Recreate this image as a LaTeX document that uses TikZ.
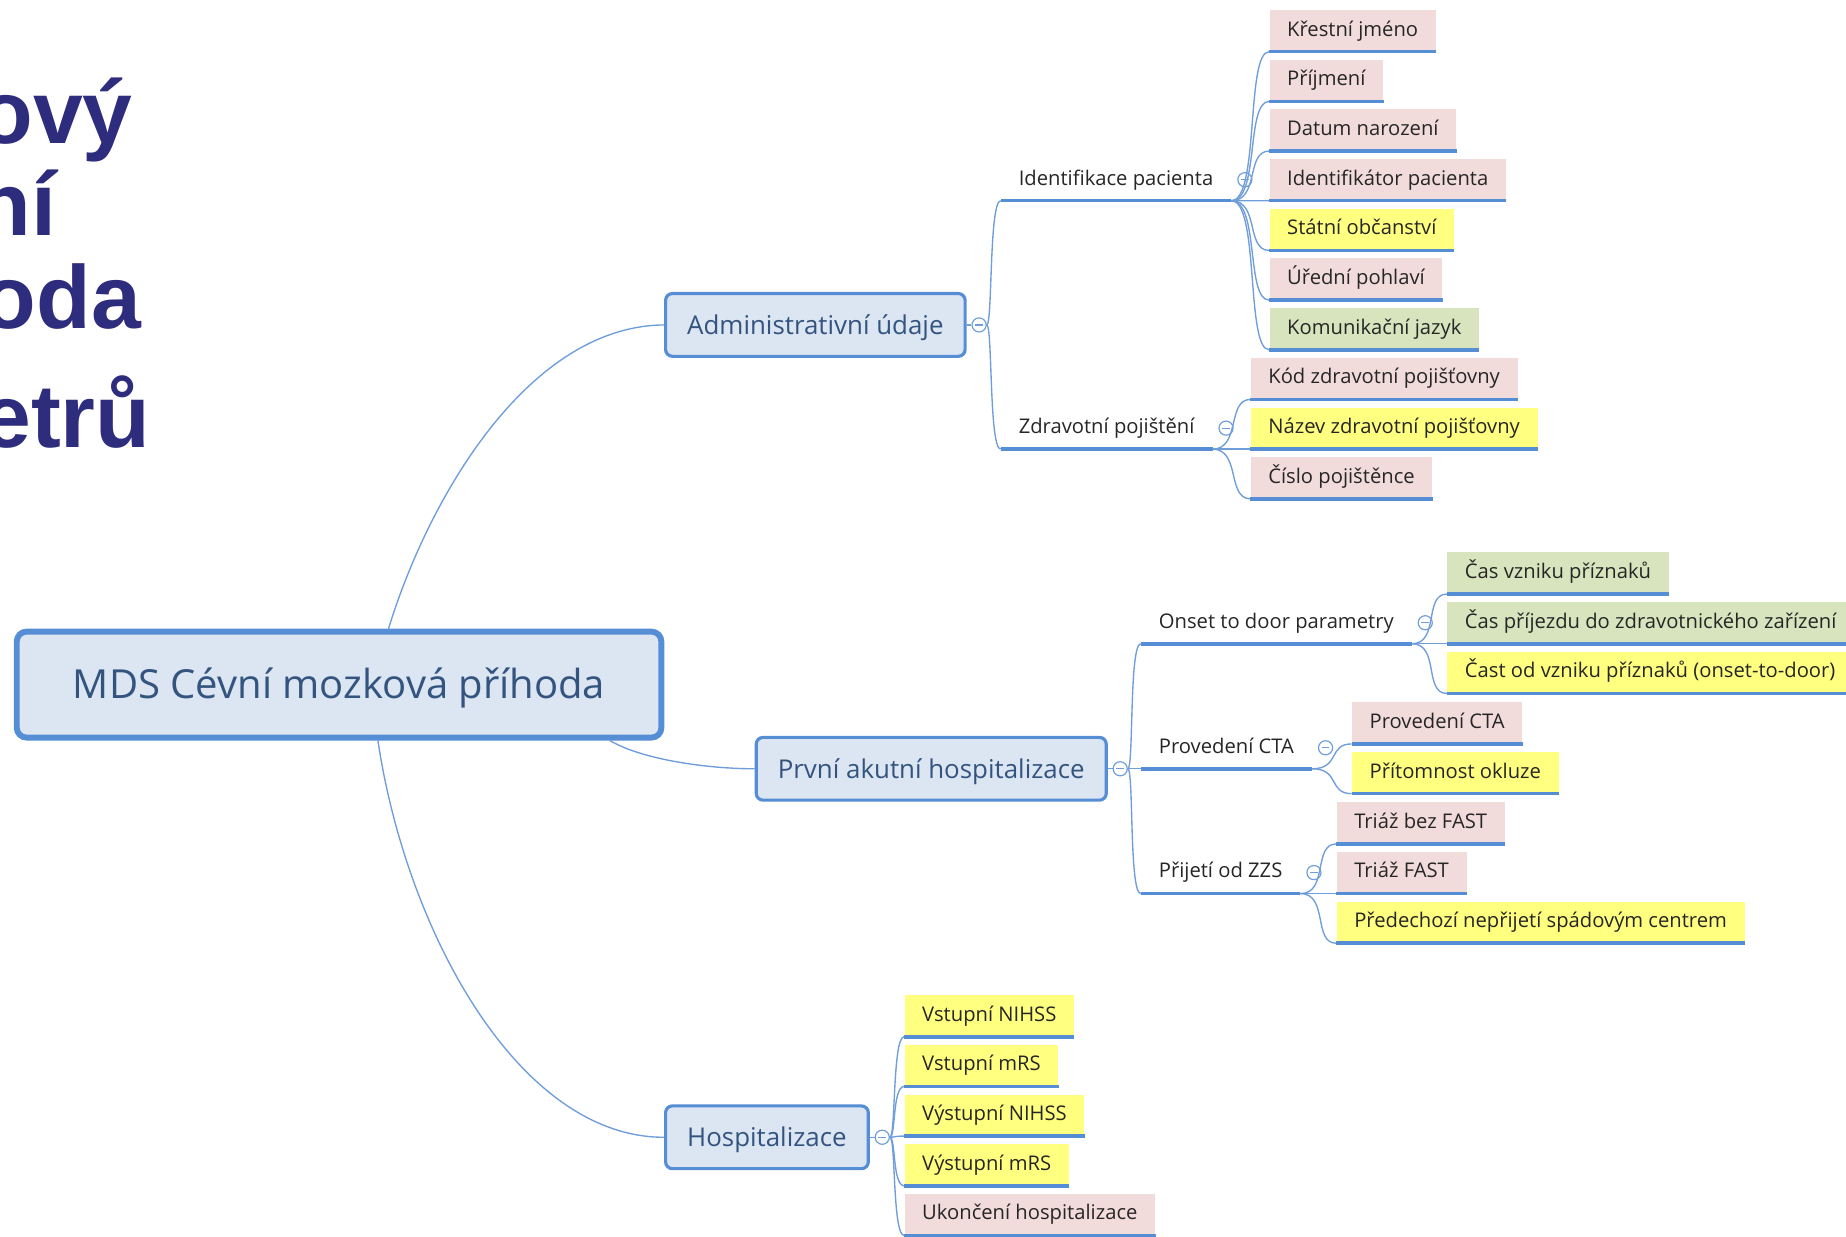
\documentclass[tikz,border=0pt]{standalone}
\usepackage{fontspec}
\setmainfont{Open Sans}
\newfontfamily\headfont{Liberation Sans}
\usetikzlibrary{positioning}

\definecolor{nodeblue}{RGB}{85,142,213}
\definecolor{boxfill}{RGB}{220,230,242}
\definecolor{linkblue}{RGB}{112,158,218}
\definecolor{topicblue}{RGB}{52,84,128}
\definecolor{inkgray}{RGB}{38,38,38}
\definecolor{titlenavy}{RGB}{46,45,125}
\definecolor{leafpink}{RGB}{242,220,219}
\definecolor{leafyellow}{RGB}{255,255,128}
\definecolor{leafgreen}{RGB}{215,228,189}

\begin{document}
\begin{tikzpicture}[x=0.6pt, y=-0.6pt,
    every node/.style={font=\fontsize{10.3}{12}\selectfont, text=inkgray},
    central/.style={draw=nodeblue, line width=3pt, fill=boxfill, rounded corners=5pt,
        minimum width=328.5pt, minimum height=54pt, text=topicblue, font=\fontsize{20.4}{24}\selectfont,
        text height=14.6pt, text depth=0pt},
    mainbranch/.style={draw=nodeblue, line width=1.6pt, fill=boxfill, rounded corners=3.5pt, anchor=west,
        inner xsep=11pt, minimum height=32pt, text=topicblue, font=\fontsize{13.2}{16}\selectfont,
        text height=9.4pt, text depth=0pt},
    topic/.style={anchor=south west, inner xsep=9pt, inner ysep=0pt, minimum height=21pt,
        text height=8pt, text depth=2.5pt},
    leaf/.style={topic, fill=#1},
    toggle/.style={circle, draw=linkblue, fill=white, line width=.6pt, minimum size=7.2pt, inner sep=0pt,
        path picture={\draw[linkblue, line width=.6pt] ([xshift=-2pt]path picture bounding box.center)
            -- ([xshift=2pt]path picture bounding box.center);}},
    link/.style={draw=linkblue, line width=.7pt},
    uline/.style={draw=nodeblue, line width=1.8pt},
    branch/.style={to path={.. controls +(5,0) and +(-10,0) .. (\tikztotarget)}},
    twig/.style={to path={.. controls +(24,0) and +(-20,0) .. (\tikztotarget)}},
    heading/.style={font=\headfont\bfseries\fontsize{45.6}{50}\selectfont, text=titlenavy,
        anchor=base east, inner sep=0pt}]
    \useasboundingbox (0,0) rectangle (1568,1050);

    % slide title, cut by the left edge
    \node[heading] (hd1) at (113,122) {ový};
    \node[heading] (hd2) at (48,200) {ní};
    \node[heading] (hd3) at (120,279) {oda};
    \node[heading] (hd4) at (128,380) {etrů};

    \node[central] (mds) at (288,581.5) {MDS Cévní mozková příhoda};

    \node[mainbranch] (adm) at (564,276) {Administrativní údaje};
    \node[mainbranch] (pah) at (641,653) {První akutní hospitalizace};
    \node[mainbranch] (hos) at (564,966) {Hospitalizace};
    \node[toggle, right=2.4pt of adm] (admc) {};
    \node[toggle, right=2.4pt of pah] (pahc) {};
    \node[toggle, right=2.4pt of hos] (hosc) {};

    \draw[link] ([xshift=25.2pt]mds.north) .. controls (365,420) and (450,277) .. (adm.west);
    \draw[link] ([xshift=138pt]mds.south) .. controls (545,645) and (600,653) .. (pah.west);
    \draw[link] ([xshift=19.8pt]mds.south) .. controls (345,790) and (440,966) .. (hos.west);
    \foreach \a in {adm,pah,hos}
        \draw[link] (\a.east) -- (\a c.west);

    \node[topic] (idp) at (850,170.5) {Identifikace pacienta};
    \node[topic] (zdp) at (850,381.5) {Zdravotní pojištění};
    \node[topic] (otd) at (969,546.8) {Onset to door parametry};
    \node[topic] (cta) at (969,653) {Provedení CTA};
    \node[topic] (zzs) at (969,759) {Přijetí od ZZS};
    \foreach \p/\q in {admc/idp, admc/zdp, pahc/otd, pahc/cta, pahc/zzs} {
        \draw[link] (\p.east) to[branch] (\q.south west);
        \draw[uline] (\q.south west) -- (\q.south east);
        \node[toggle, right=3pt of \q] (\q c) {};
    }

    % leaves
    \foreach \n/\t/\c [count=\i from 0] in {kj/Křestní jméno/leafpink, pj/Příjmení/leafpink,
            dn/Datum narození/leafpink, ip/Identifikátor pacienta/leafpink,
            so/Státní občanství/leafyellow, up/Úřední pohlaví/leafpink, kl/Komunikační jazyk/leafgreen} {
        \node[leaf=\c] (\n) at (1078,43.9+42.2*\i) {\t};
        \draw[link] (idp.south east) to[twig] (\n.south west);
        \draw[uline] (\n.south west) -- (\n.south east);
    }
    \foreach \n/\t/\c [count=\i from 0] in {kz/Kód zdravotní pojišťovny/leafpink,
            nz/Název zdravotní pojišťovny/leafyellow, cp/Číslo pojištěnce/leafpink} {
        \node[leaf=\c] (\n) at (1062,339.3+42.2*\i) {\t};
        \draw[link] (zdp.south east) to[twig] (\n.south west);
        \draw[uline] (\n.south west) -- (\n.south east);
    }
    \foreach \n/\t/\c [count=\i from 0] in {cv/Čas vzniku příznaků/leafgreen,
            cz/Čas příjezdu do zdravotnického zařízení/leafgreen,
            co/Čast od vzniku příznaků (onset-to-door)/leafyellow} {
        \node[leaf=\c] (\n) at (1229,504.6+42.2*\i) {\t};
        \draw[link] (otd.south east) to[twig] (\n.south west);
        \draw[uline] (\n.south west) -- (\n.south east);
    }
    \foreach \n/\t/\c [count=\i from 0] in {pc/Provedení CTA/leafpink, po/Přítomnost okluze/leafyellow} {
        \node[leaf=\c] (\n) at (1148,631.9+42.2*\i) {\t};
        \draw[link] (cta.south east) to[twig] (\n.south west);
        \draw[uline] (\n.south west) -- (\n.south east);
    }
    \foreach \n/\t/\c [count=\i from 0] in {tb/Triáž bez FAST/leafpink, tf/Triáž FAST/leafpink,
            pn/Předechozí nepřijetí spádovým centrem/leafyellow} {
        \node[leaf=\c] (\n) at (1135,716.8+42.2*\i) {\t};
        \draw[link] (zzs.south east) to[twig] (\n.south west);
        \draw[uline] (\n.south west) -- (\n.south east);
    }
    \foreach \n/\t/\c [count=\i from 0] in {vn/Vstupní NIHSS/leafyellow, vm/Vstupní mRS/leafyellow,
            yn/Výstupní NIHSS/leafyellow, ym/Výstupní mRS/leafyellow, uh/Ukončení hospitalizace/leafpink} {
        \node[leaf=\c] (\n) at (768,880.6+42.2*\i) {\t};
        \draw[link] (hosc.east) to[branch] (\n.south west);
        \draw[uline] (\n.south west) -- (\n.south east);
    }
\end{tikzpicture}
\end{document}
